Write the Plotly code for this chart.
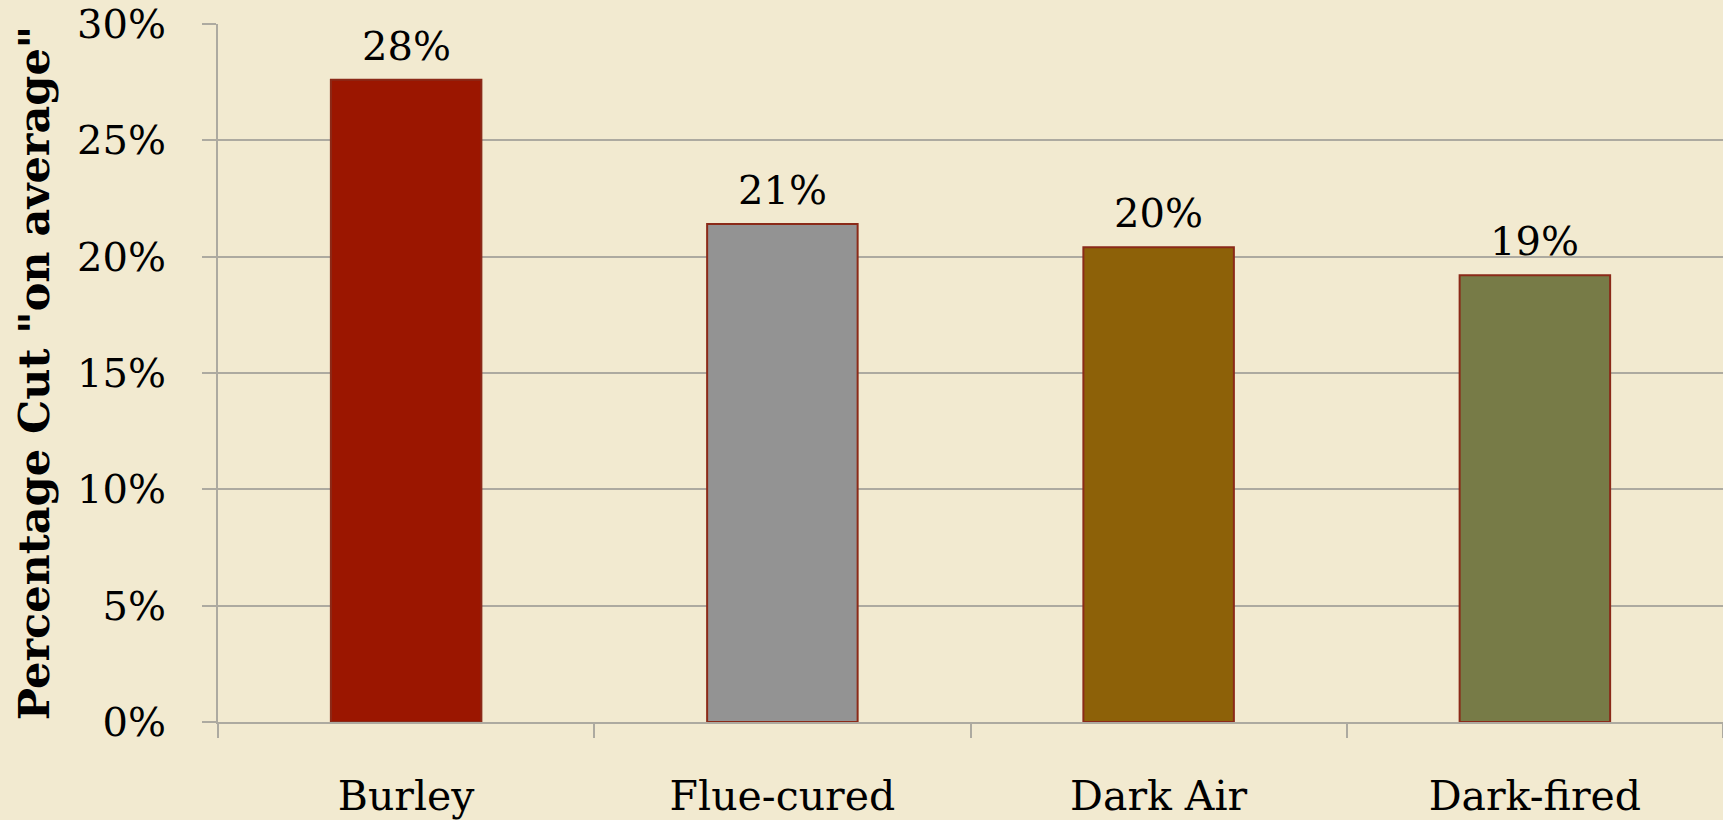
import plotly.graph_objects as go

# tobacco types and average cut (fraction)
types = ['Burley', 'Flue-cured', 'Dark Air', 'Dark-fired']
cut_avg = [0.276, 0.214, 0.204, 0.192]
bar_colors = ['#9b1600', '#939393', '#8d6108', '#777b47']

y_ticks = [0, 0.05, 0.10, 0.15, 0.20, 0.25, 0.30]

FONT = 'DejaVu Serif'
BG = '#f2ead0'
GRID = '#adaaa0'

fig = go.Figure()
fig.add_trace(go.Bar(
    x=types,
    y=cut_avg,
    marker=dict(color=bar_colors, line=dict(color='#8b2a18', width=2)),
))

# value labels a little above each bar
for t, v in zip(types, cut_avg):
    fig.add_annotation(
        x=t, y=v, text=f'{v:.0%}',
        showarrow=False, yanchor='bottom', yshift=9,
        font=dict(family=FONT, size=40, color='black'),
    )

fig.update_layout(
    width=1723,
    height=820,
    paper_bgcolor=BG,
    plot_bgcolor=BG,
    margin=dict(l=218, r=0, t=24, b=98),
    bargap=0.6,
    showlegend=False,
    font=dict(family=FONT, color='black'),
)

fig.update_xaxes(
    type='category',
    automargin=False,
    tickson='boundaries',
    ticks='outside',
    ticklen=14,
    tickwidth=2,
    tickcolor=GRID,
    showline=True,
    linecolor=GRID,
    linewidth=2,
    showgrid=False,
    tickfont=dict(family=FONT, size=41, color='black'),
    ticklabelstandoff=37,
)

fig.update_yaxes(
    range=[0, 0.30],
    automargin=False,
    tickvals=y_ticks,
    tickformat='.0%',
    ticks='outside',
    ticklen=14,
    tickwidth=2,
    tickcolor=GRID,
    showgrid=True,
    gridcolor=GRID,
    gridwidth=2,
    showline=True,
    linecolor=GRID,
    linewidth=2,
    zeroline=False,
    ticklabeloverflow='allow',
    tickfont=dict(family=FONT, size=40, color='black'),
    ticklabelstandoff=28,
    title=dict(
        text='<b>Percentage Cut "on average"</b>',
        font=dict(family=FONT, size=43, color='black'),
        standoff=14,
    ),
)

# drop the default 8px page margin so the figure fills the window exactly
fig.write_html('out.html', config={'displayModeBar': False},
               post_script="document.body.style.margin = '0';")
